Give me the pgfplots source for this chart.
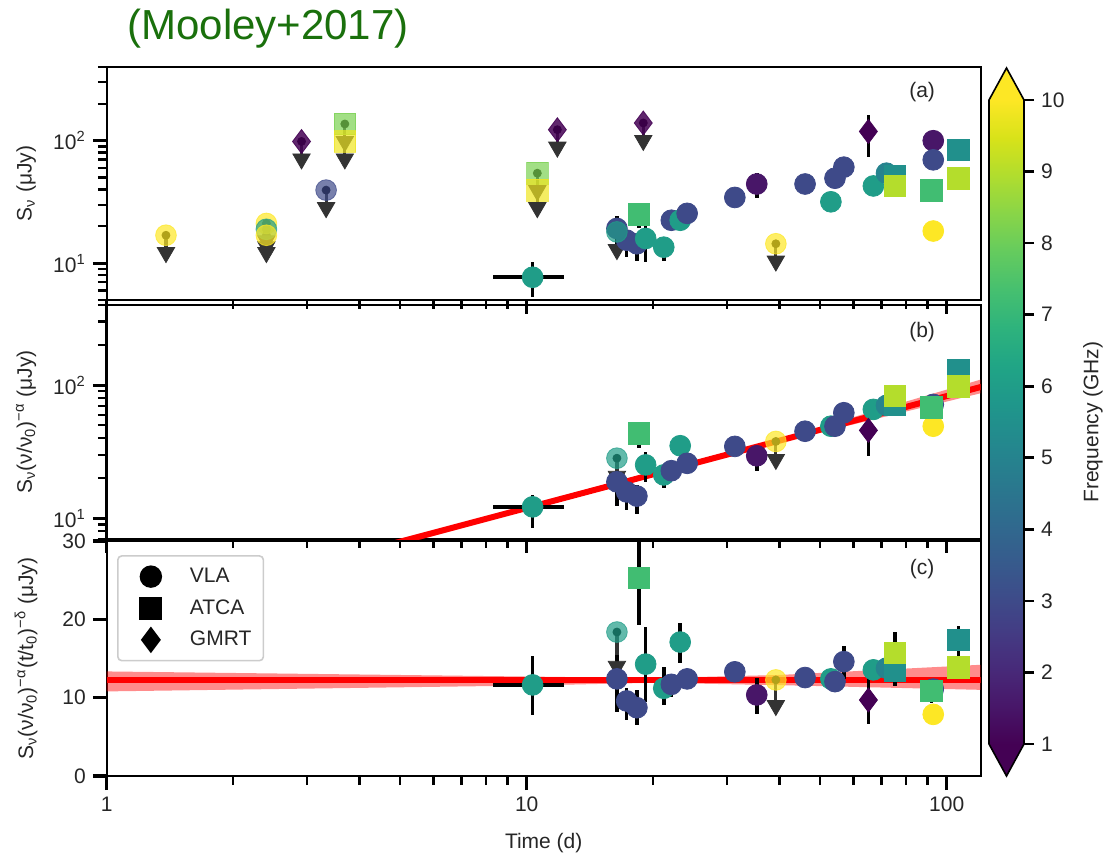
\documentclass[border=0pt]{standalone}
\usepackage{fontspec}
\setmainfont{Liberation Sans}
\usepackage{pgfplots}
\usepackage{pgfplotstable}
\pgfplotsset{compat=1.18}
\definecolor{titlegreen}{RGB}{26,112,12}
\definecolor{vmin}{HTML}{440154}
\definecolor{vmax}{HTML}{FDE725}
\definecolor{limgray}{HTML}{333333}
\definecolor{txtgray}{HTML}{262626}
\newcommand\txtfont{\fontsize{10.5}{12.6}\selectfont}

% ---------------- panel (a) ----------------
\pgfplotstableread{
t S f em ep xm xp
10.33 7.67 6 2.4 2.5 2.0 1.97
16.4 19.2 3 8 5 0 0
17.3 15.4 3 4.2 3 0 0
18.3 14.4 3 3.9 3 0 0
19.2 15.9 6 5.7 5 0 0
21.2 13.5 6 3 3 0 0
22.1 22.4 3 2 2 0 0
23.2 22.4 6 2 2 0 0
24.1 25.5 3 2 2 0 0
31.3 34.4 3 3 3 0 0
35.3 44.3 1.5 10 10 0 0
46.0 44.3 3 3 3 0 0
53.0 31.7 6 3 3 0 0
54.2 49.4 3 4 4 0 0
56.9 60.8 3 5 5 0 0
66.9 42.7 6 4 4 0 0
71.9 54.3 5 5 5 0 0
92.9 100 1.5 8 8 0 0
92.9 69.8 3 6 6 0 0
92.9 18.3 10 2 2 0 0
}\Avla
\pgfplotstableread{
t S f em ep xm xp
18.5 25.1 7.25 5.9 6 0 0
75.3 50.9 5.5 4 4 0 0
75.3 42.7 9 4 4 0 0
92.1 39.5 7.25 4 4 0 0
106.6 84.4 5.5 6 6 0 0
106.6 49.4 9 4 4 0 0
}\Aatca
\pgfplotstableread{
t S f em ep xm xp
65.1 119 1 45 44 0 0
}\Agmrt
\pgfplotstableread{
t S f tip
1.384 16.9 10 12.2
2.40 21.1 10 15.2
2.40 18.9 6 13.6
2.40 16.9 10 12.2
3.33 39.5 3 28.4
16.4 18.0 6 12.9
39.2 14.4 10 10.4
}\Alimc
\pgfplotstableread{
t S f tip
3.69 137 8.2 98.6
3.69 98.6 9.8 71.0
10.6 54.3 8.2 39.1
10.6 39.5 9.8 28.4
}\Alims
\pgfplotstableread{
t S f tip
2.91 98.6 1 71.0
11.83 123 1 88.6
18.95 139.6 1 100.5
}\Alimd

% ---------------- panel (b) ----------------
\pgfplotstableread{
t S f em ep xm xp
10.33 12.2 6 3.8 2.7 2.0 1.97
16.4 18.8 3 6.4 4 0 0
17.3 15.8 3 4.3 3 0 0
18.3 14.7 3 3.9 3 0 0
19.2 25.2 6 6.5 6.5 0 0
21.2 21.2 6 4.4 3 0 0
22.1 22.8 3 2 2 0 0
23.2 35.1 6 3 3 0 0
24.1 25.9 3 2 2 0 0
31.3 34.7 3 3 3 0 0
35.3 29.5 1.5 6.7 5 0 0
46.0 45.1 3 3 3 0 0
53.0 49.2 6 4 4 0 0
54.2 49.2 3 4 4 0 0
56.9 62.1 3 5 5 0 0
66.9 65.8 6 5 5 0 0
71.9 70.5 5 5 5 0 0
92.9 71.7 3 6 6 0 0
92.9 49.2 10 4 4 0 0
}\Bvla
\pgfplotstableread{
t S f em ep xm xp
18.5 43.3 7.25 9.5 9.5 0 0
75.3 71.7 5.5 5 5 0 0
75.3 83.0 9 5 5 0 0
92.1 67.8 7.25 5 5 0 0
106.6 130.6 5.5 8 8 0 0
106.6 97.7 9 6 6 0 0
}\Batca
\pgfplotstableread{
t S f em ep xm xp
65.1 45.8 1 16.4 8 0 0
}\Bgmrt
\pgfplotstableread{
t S f tip
16.4 28.3 6 20.7
39.2 37.8 10 27.7
}\Blimc

% ---------------- panel (c) ----------------
\pgfplotstableread{
t S f em ep xm xp
10.33 11.63 6 3.85 3.63 2.0 1.97
16.4 12.4 3 4.2 3.0 0 0
17.3 9.58 3 2.44 1.6 0 0
18.3 8.72 3 2.2 2.3 0 0
19.2 14.28 6 4.8 4.8 0 0
21.2 11.2 6 2.1 2.7 0 0
22.1 11.7 3 1.6 1.2 0 0
23.2 17.1 6 2.7 2.4 0 0
24.1 12.4 3 1 1 0 0
31.3 13.3 3 1.2 1.2 0 0
35.3 10.35 1.5 2.4 2.1 0 0
46.0 12.57 3 1 1 0 0
53.0 12.4 6 1.3 1.3 0 0
54.2 12.05 3 1.3 1.3 0 0
56.9 14.6 3 2.2 2 0 0
66.9 13.55 6 1 1 0 0
71.9 13.77 5 1 1 0 0
92.9 11.1 3 1.2 1.2 0 0
92.9 7.87 10 1 1 0 0
}\Cvla
\pgfplotstableread{
t S f em ep xm xp
18.5 25.3 7.25 6 6 0 0
75.3 13.42 5.5 1.5 1.5 0 0
75.3 15.7 9 4.2 2.7 0 0
92.1 10.86 7.25 1.5 1.5 0 0
106.6 17.4 5.5 2.2 1.7 0 0
106.6 13.85 9 1.5 1.5 0 0
}\Catca
\pgfplotstableread{
t S f em ep xm xp
65.1 9.7 1 3.0 2.8 0 0
}\Cgmrt
\pgfplotstableread{
t S f tip
16.4 18.38 6 14.0
39.2 12.27 10 9.0
}\Climc

\begin{document}
\begin{tikzpicture}
\path[use as bounding box] (0,0) rectangle (553pt,426pt);
\node[font=\fontsize{21}{25}\selectfont, text=titlegreen] at (134pt,411.5pt) {(Mooley+2017)};

% ===== panel (a) =====
\begin{axis}[scale only axis, anchor=south west, width=437pt, height=116.5pt,
  at={(53.35pt,276pt)},
  xmode=log, xmin=1, xmax=120.5,
  xtick={1,10,100}, xticklabels={},
  minor xtick={2,3,4,5,6,7,8,9,20,30,40,50,60,70,80,90},
  ymode=log, ymin=5, ymax=400,
  ytick={10,100}, yticklabels={10\textsuperscript{1},10\textsuperscript{2}},
  minor ytick={5,6,7,8,9,20,30,40,50,60,70,80,90,200,300,400},
  tick align=outside, xtick pos=left, ytick pos=left,
  major tick length=7pt, minor tick length=4.5pt,
  major tick style={line width=1.6pt, black},
  minor tick style={line width=1.2pt, black},
  axis line style={line width=1.2pt},
  colormap/viridis, point meta min=1, point meta max=10,
  tick label style={font=\txtfont, text=txtgray},
  ylabel={S\textsubscript{ν} (μJy)},
  ylabel style={font=\txtfont, text=txtgray, at={(axis description cs:-0.0922,0.5)}, anchor=center}]
\addplot[only marks, mark=none, error bars/.cd, y dir=minus, y explicit, error bar style={limgray, line width=1.6pt}, error mark=none] table[x=t,y=S,y error minus expr=\thisrow{S}-\thisrow{tip}] \Alimc;
\addplot[only marks, mark=none, error bars/.cd, y dir=minus, y explicit, error bar style={limgray, line width=1.6pt}, error mark=none] table[x=t,y=S,y error minus expr=\thisrow{S}-\thisrow{tip}] \Alims;
\addplot[only marks, mark=none, error bars/.cd, y dir=minus, y explicit, error bar style={limgray, line width=1.6pt}, error mark=none] table[x=t,y=S,y error minus expr=\thisrow{S}-\thisrow{tip}] \Alimd;
\addplot[only marks, mark=triangle*, mark size=5pt, mark options={rotate=180, fill=limgray, draw=limgray}] table[x=t,y=tip] \Alimc;
\addplot[only marks, mark=triangle*, mark size=5pt, mark options={rotate=180, fill=limgray, draw=limgray}] table[x=t,y=tip] \Alims;
\addplot[only marks, mark=triangle*, mark size=5pt, mark options={rotate=180, fill=limgray, draw=limgray}] table[x=t,y=tip] \Alimd;
\addplot[only marks, mark=none, error bars/.cd, y dir=both, y explicit, x dir=both, x explicit, error bar style={black, line width=1.8pt}, error mark=none] table[x=t,y=S,y error plus=ep,y error minus=em,x error plus=xp,x error minus=xm] \Avla;
\addplot[only marks, mark=none, error bars/.cd, y dir=both, y explicit, x dir=both, x explicit, error bar style={black, line width=1.8pt}, error mark=none] table[x=t,y=S,y error plus=ep,y error minus=em,x error plus=xp,x error minus=xm] \Aatca;
\addplot[only marks, mark=none, error bars/.cd, y dir=both, y explicit, x dir=both, x explicit, error bar style={black, line width=1.8pt}, error mark=none] table[x=t,y=S,y error plus=ep,y error minus=em,x error plus=xp,x error minus=xm] \Agmrt;
\addplot[scatter, only marks, point meta=explicit, scatter/use mapped color={draw=mapped color, fill=mapped color}, mark=*, mark size=5.2pt] table[x=t,y=S,meta=f] \Avla;
\addplot[scatter, only marks, point meta=explicit, scatter/use mapped color={draw=mapped color, fill=mapped color}, mark=square*, mark size=5.4pt] table[x=t,y=S,meta=f] \Aatca;
\addplot[scatter, only marks, point meta=explicit, scatter/use mapped color={draw=mapped color, fill=mapped color}, mark=diamond*, mark size=6pt] table[x=t,y=S,meta=f] \Agmrt;
\addplot[scatter, only marks, point meta=explicit, scatter/use mapped color={draw=mapped color, fill=mapped color, fill opacity=0.7, draw opacity=0.7}, mark=*, mark size=5.2pt] table[x=t,y=S,meta=f] \Alimc;
\addplot[scatter, only marks, point meta=explicit, scatter/use mapped color={draw=mapped color, fill=mapped color, fill opacity=0.7, draw opacity=0.7}, mark=square*, mark size=5.4pt] table[x=t,y=S,meta=f] \Alims;
\addplot[scatter, only marks, point meta=explicit, scatter/use mapped color={draw=mapped color, fill=mapped color, fill opacity=0.85, draw opacity=0.85}, mark=diamond*, mark size=6pt] table[x=t,y=S,meta=f] \Alimd;
\node[font=\txtfont, text=txtgray] at (rel axis cs:0.933,0.893) {(a)};
\end{axis}

% ===== panel (b) =====
\begin{axis}[scale only axis, anchor=south west, width=437pt, height=117pt,
  at={(53.35pt,156.5pt)},
  xmode=log, xmin=1, xmax=120.5,
  xtick={1,10,100}, xticklabels={},
  minor xtick={2,3,4,5,6,7,8,9,20,30,40,50,60,70,80,90},
  ymode=log, ymin=7, ymax=400,
  ytick={10,100}, yticklabels={10\textsuperscript{1},10\textsuperscript{2}},
  minor ytick={7,8,9,20,30,40,50,60,70,80,90,200,300,400},
  tick align=outside, xtick pos=left, ytick pos=left,
  major tick length=7pt, minor tick length=4.5pt,
  major tick style={line width=1.6pt, black},
  minor tick style={line width=1.2pt, black},
  axis line style={line width=1.2pt},
  colormap/viridis, point meta min=1, point meta max=10,
  tick label style={font=\txtfont, text=txtgray},
  ylabel={S\textsubscript{ν}(ν/ν\textsubscript{0})\textsuperscript{−α} (μJy)},
  ylabel style={font=\txtfont, text=txtgray, at={(axis description cs:-0.0922,0.5)}, anchor=center}]
\addplot[fill=red, fill opacity=0.45, draw=none] coordinates {(4,5.87) (20,21.83) (50,48.6) (125,114) (125,89.5) (50,44.1) (20,20.95) (4,5.20)};
\addplot[red, line width=3pt] coordinates {(4,5.54) (125,99.9)};
\addplot[only marks, mark=none, error bars/.cd, y dir=minus, y explicit, error bar style={limgray, line width=1.6pt}, error mark=none] table[x=t,y=S,y error minus expr=\thisrow{S}-\thisrow{tip}] \Blimc;
\addplot[only marks, mark=triangle*, mark size=5pt, mark options={rotate=180, fill=limgray, draw=limgray}] table[x=t,y=tip] \Blimc;
\addplot[only marks, mark=none, error bars/.cd, y dir=both, y explicit, x dir=both, x explicit, error bar style={black, line width=1.8pt}, error mark=none] table[x=t,y=S,y error plus=ep,y error minus=em,x error plus=xp,x error minus=xm] \Bvla;
\addplot[only marks, mark=none, error bars/.cd, y dir=both, y explicit, x dir=both, x explicit, error bar style={black, line width=1.8pt}, error mark=none] table[x=t,y=S,y error plus=ep,y error minus=em,x error plus=xp,x error minus=xm] \Batca;
\addplot[only marks, mark=none, error bars/.cd, y dir=both, y explicit, x dir=both, x explicit, error bar style={black, line width=1.8pt}, error mark=none] table[x=t,y=S,y error plus=ep,y error minus=em,x error plus=xp,x error minus=xm] \Bgmrt;
\addplot[scatter, only marks, point meta=explicit, scatter/use mapped color={draw=mapped color, fill=mapped color}, mark=*, mark size=5.2pt] table[x=t,y=S,meta=f] \Bvla;
\addplot[scatter, only marks, point meta=explicit, scatter/use mapped color={draw=mapped color, fill=mapped color}, mark=square*, mark size=5.4pt] table[x=t,y=S,meta=f] \Batca;
\addplot[scatter, only marks, point meta=explicit, scatter/use mapped color={draw=mapped color, fill=mapped color}, mark=diamond*, mark size=6pt] table[x=t,y=S,meta=f] \Bgmrt;
\addplot[scatter, only marks, point meta=explicit, scatter/use mapped color={draw=mapped color, fill=mapped color, fill opacity=0.7, draw opacity=0.7}, mark=*, mark size=5.2pt] table[x=t,y=S,meta=f] \Blimc;
\node[font=\txtfont, text=txtgray] at (rel axis cs:0.933,0.885) {(b)};
\end{axis}

% ===== panel (c) =====
\begin{axis}[scale only axis, anchor=south west, width=437pt, height=117.5pt,
  at={(53.35pt,38pt)},
  xmode=log, xmin=1, xmax=120.5,
  xtick={1,10,100}, xticklabels={1,10,100},
  minor xtick={2,3,4,5,6,7,8,9,20,30,40,50,60,70,80,90},
  ymin=0, ymax=30, ytick={0,10,20,30}, yticklabels={0,10,20,30},
  tick align=outside, xtick pos=left, ytick pos=left,
  major tick length=7pt, minor tick length=4.5pt,
  major tick style={line width=1.6pt, black},
  minor tick style={line width=1.2pt, black},
  axis line style={line width=1.2pt},
  colormap/viridis, point meta min=1, point meta max=10,
  tick label style={font=\txtfont, text=txtgray},
  xlabel={Time (d)},
  xlabel style={font=\txtfont, text=txtgray, at={(axis description cs:0.5,0)}, anchor=north, yshift=-25pt},
  ylabel={S\textsubscript{ν}(ν/ν\textsubscript{0})\textsuperscript{−α}(t/t\textsubscript{0})\textsuperscript{−δ} (μJy)},
  ylabel style={font=\txtfont, text=txtgray, at={(axis description cs:-0.0922,0.5)}, anchor=center},
  legend image code/.code={\path[draw=none, fill=none] (-4pt,0pt) (0.6cm,0pt); \draw[#1] plot coordinates {(0.3cm,0cm)};},
  legend style={at={(0.0118,0.94)}, anchor=north west, draw=black!20, line width=0.8pt,
    rounded corners=2pt, font=\txtfont, text=txtgray, row sep=3pt, inner xsep=4pt, inner ysep=4pt,
    /tikz/every odd column/.append style={column sep=9pt}},
  legend cell align=left]
\addlegendimage{only marks, mark=*, mark size=5.2pt, black}
\addlegendentry{VLA}
\addlegendimage{only marks, mark=square*, mark size=5.4pt, black}
\addlegendentry{ATCA}
\addlegendimage{only marks, mark=diamond*, mark size=6pt, black}
\addlegendentry{GMRT}
\addplot[fill=red, fill opacity=0.45, draw=none] coordinates {(1,13.35) (10,12.7) (20,12.5) (40,12.9) (120.5,14.2) (120.5,11.0) (40,11.6) (20,11.9) (10,11.55) (1,10.8)};
\addplot[red, line width=3.2pt] coordinates {(1,12.27) (120.5,12.27)};
\addplot[only marks, mark=none, error bars/.cd, y dir=minus, y explicit, error bar style={limgray, line width=1.6pt}, error mark=none] table[x=t,y=S,y error minus expr=\thisrow{S}-\thisrow{tip}] \Climc;
\addplot[only marks, mark=triangle*, mark size=5pt, mark options={rotate=180, fill=limgray, draw=limgray}] table[x=t,y=tip] \Climc;
\addplot[only marks, mark=none, error bars/.cd, y dir=both, y explicit, x dir=both, x explicit, error bar style={black, line width=1.8pt}, error mark=none] table[x=t,y=S,y error plus=ep,y error minus=em,x error plus=xp,x error minus=xm] \Cvla;
\addplot[only marks, mark=none, error bars/.cd, y dir=both, y explicit, x dir=both, x explicit, error bar style={black, line width=1.8pt}, error mark=none] table[x=t,y=S,y error plus=ep,y error minus=em,x error plus=xp,x error minus=xm] \Catca;
\addplot[only marks, mark=none, error bars/.cd, y dir=both, y explicit, x dir=both, x explicit, error bar style={black, line width=1.8pt}, error mark=none] table[x=t,y=S,y error plus=ep,y error minus=em,x error plus=xp,x error minus=xm] \Cgmrt;
\addplot[scatter, only marks, point meta=explicit, scatter/use mapped color={draw=mapped color, fill=mapped color}, mark=*, mark size=5.2pt] table[x=t,y=S,meta=f] \Cvla;
\addplot[scatter, only marks, point meta=explicit, scatter/use mapped color={draw=mapped color, fill=mapped color}, mark=square*, mark size=5.4pt] table[x=t,y=S,meta=f] \Catca;
\addplot[scatter, only marks, point meta=explicit, scatter/use mapped color={draw=mapped color, fill=mapped color}, mark=diamond*, mark size=6pt] table[x=t,y=S,meta=f] \Cgmrt;
\addplot[scatter, only marks, point meta=explicit, scatter/use mapped color={draw=mapped color, fill=mapped color, fill opacity=0.7, draw opacity=0.7}, mark=*, mark size=5.2pt] table[x=t,y=S,meta=f] \Climc;
\node[font=\txtfont, text=txtgray] at (rel axis cs:0.933,0.88) {(c)};
\end{axis}

% ===== colour bar =====
\begin{axis}[scale only axis, anchor=south west, at={(494.5pt,54pt)},
  width=17.5pt, height=322pt, xmin=0, xmax=1, ymin=1, ymax=10,
  colormap/viridis, point meta min=1, point meta max=10,
  xtick=\empty, ytick={1,2,3,4,5,6,7,8,9,10},
  yticklabels={1,2,3,4,5,6,7,8,9,10},
  ytick pos=right, yticklabel pos=right, tick align=outside,
  major tick length=5pt, major tick style={line width=1.3pt, black},
  axis line style={draw=none}, clip=false,
  tick label style={font=\txtfont, text=txtgray},
  ylabel={Frequency (GHz)},
  ylabel style={font=\txtfont, text=txtgray, at={(axis description cs:2.971,0.5)}, anchor=center}]
\addplot[patch, shader=interp, point meta=y] coordinates {
(0,1) (1,1) (1,2)  (0,1) (1,2) (0,2)
(0,2) (1,2) (1,3)  (0,2) (1,3) (0,3)
(0,3) (1,3) (1,4)  (0,3) (1,4) (0,4)
(0,4) (1,4) (1,5)  (0,4) (1,5) (0,5)
(0,5) (1,5) (1,6)  (0,5) (1,6) (0,6)
(0,6) (1,6) (1,7)  (0,6) (1,7) (0,7)
(0,7) (1,7) (1,8)  (0,7) (1,8) (0,8)
(0,8) (1,8) (1,9)  (0,8) (1,9) (0,9)
(0,9) (1,9) (1,10) (0,9) (1,10) (0,10)
};
\fill[vmax] (axis cs:0,10) -- (axis cs:0.5,10.447) -- (axis cs:1,10) -- cycle;
\fill[vmin] (axis cs:0,1) -- (axis cs:0.5,0.553) -- (axis cs:1,1) -- cycle;
\draw[black, line width=0.8pt] (axis cs:0,1) -- (axis cs:0,10) -- (axis cs:0.5,10.447) -- (axis cs:1,10) -- (axis cs:1,1) -- (axis cs:0.5,0.553) -- cycle;
\end{axis}
\end{tikzpicture}
\end{document}
